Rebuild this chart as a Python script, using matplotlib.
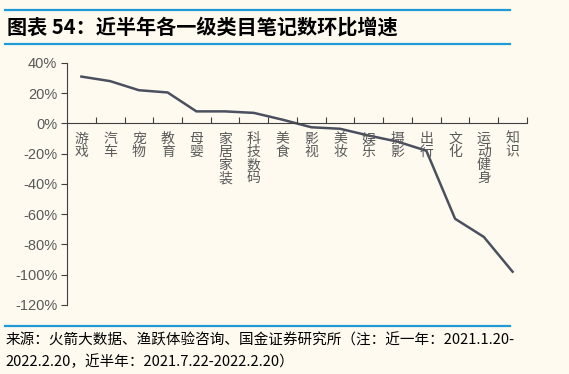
import matplotlib.pyplot as plt
from matplotlib.lines import Line2D

plt.rcParams['font.family'] = ['Noto Sans CJK SC', 'DejaVu Sans']

categories = ['游戏', '汽车', '宠物', '教育', '母婴', '家居家装', '科技数码', '美食',
              '影视', '美妆', '娱乐', '摄影', '出行', '文化', '运动健身', '知识']
growth = [31, 28, 22, 20.5, 8, 8, 7, 2.5, -2.5, -3.5, -8, -12, -18, -63, -75, -98]
yticks = [40, 20, 0, -20, -40, -60, -80, -100, -120]

bg = '#FEFAF0'
blue = '#1E9AD6'
grey = '#595959'

fig = plt.figure(figsize=(5.69, 3.74), dpi=100, facecolor=bg)
ax = fig.add_axes([0.1178, 0.1845, 0.8083, 0.6471], facecolor=bg)

x = list(range(len(categories)))
ax.plot(x, growth, color='#4A505E', lw=1.8)

ax.set_xlim(-0.5, len(categories) - 0.5)
ax.set_ylim(-120, 40)
ax.set_yticks(yticks)
ax.set_yticklabels([f'{v}%' for v in yticks], color=grey, fontsize=10.5,
                   family=['Liberation Sans', 'DejaVu Sans'])
ax.tick_params(axis='y', direction='out', length=4, width=0.8, color='#404040', pad=3)

for s in ['top', 'right']:
    ax.spines[s].set_visible(False)
ax.spines['left'].set_color('#404040')
ax.spines['left'].set_linewidth(0.8)
ax.spines['bottom'].set_position(('data', 0))
ax.spines['bottom'].set_color('#404040')
ax.spines['bottom'].set_linewidth(0.8)

ax.set_xticks([i + 0.5 for i in x])
ax.set_xticklabels([])
ax.tick_params(axis='x', direction='in', length=4, width=0.8, color='#404040')

for i, name in enumerate(categories):
    ax.annotate('\n'.join(name), xy=(i, 0), xytext=(0, -6), textcoords='offset points',
                ha='center', va='top', fontsize=10, color=grey, linespacing=0.92)

# title and rules
fig.text(0.012, 0.927, '图表 54：近半年各一级类目笔记数环比增速', fontsize=14.5,
         fontweight='bold', va='center', ha='left', color='black')
for yy in [1 - 10 / 374, 1 - 44 / 374, 1 - 326 / 374]:
    fig.add_artist(Line2D([5 / 569, 510 / 569], [yy, yy], color=blue, lw=1.6))

fig.text(0.009, 1 - 340 / 374, '来源：火箭大数据、渔跃体验咨询、国金证券研究所（注：近一年：2021.1.20-',
         fontsize=10.5, va='center', ha='left', color='black')
fig.text(0.009, 1 - 362 / 374, '2022.2.20，近半年：2021.7.22-2022.2.20）',
         fontsize=10.5, va='center', ha='left', color='black')

fig.savefig('out.png', dpi=100, facecolor=bg)
